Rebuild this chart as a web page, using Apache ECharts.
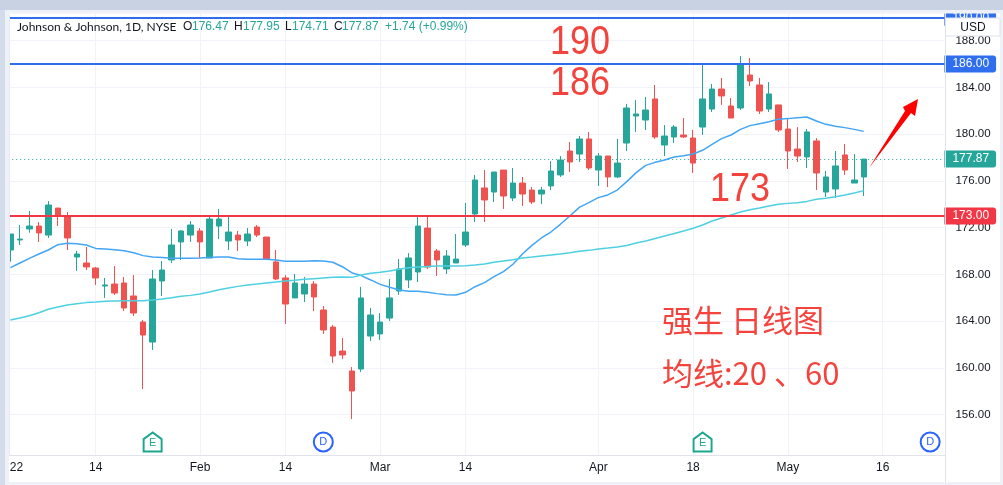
<!DOCTYPE html>
<html><head><meta charset="utf-8">
<style>html,body{margin:0;padding:0;background:#fff}#c{width:1003px;height:485px}</style>
<script src="https://cdn.jsdelivr.net/npm/echarts@6/dist/echarts.min.js"></script>
</head><body><div id="c"></div>
<script>
// [open, close, low, high]
const candles = [
[170.09,171.46,169.09,171.46],[170.95,171.03,170.52,172.23],[171.89,172.14,171.57,173.43],[172.14,171.55,170.78,172.49],
[171.37,173.94,171.12,174.28],[173.68,172.97,172.14,173.68],[173.00,171.12,170.09,173.34],[169.49,169.75,168.30,170.01],
[168.98,168.64,168.38,170.35],[168.55,167.70,167.10,168.64],[167.01,167.10,165.99,167.70],[167.18,166.41,166.24,168.72],
[167.27,165.13,164.87,167.78],[166.16,164.70,164.45,167.95],[163.93,162.82,158.20,164.10],[162.22,167.61,161.54,168.38],
[167.44,168.38,166.16,169.15],[169.24,170.52,168.98,171.89],[170.78,171.72,169.24,171.80],[171.37,172.23,170.78,172.57],
[171.72,170.78,169.41,171.97],[169.41,172.74,169.41,173.00],[172.14,172.74,171.03,173.60],[170.86,171.63,170.09,172.94],
[171.37,170.95,170.01,171.72],[170.86,171.46,170.43,171.97],[172.06,171.37,171.20,172.23],[171.20,169.32,169.24,171.20],
[169.07,167.61,167.53,170.09],[167.70,165.47,163.76,167.95],[165.99,167.27,165.99,168.04],[166.33,167.18,165.64,167.78],
[167.18,166.07,164.87,167.44],[164.96,163.25,162.91,165.30],[163.50,161.02,160.43,163.68],[161.45,161.11,160.77,162.56],
[159.74,158.03,155.63,160.08],[159.91,165.99,159.66,166.93],[162.73,164.53,162.31,165.13],[162.91,163.93,162.39,164.70],
[164.27,165.99,164.02,167.61],[166.58,168.47,166.24,169.32],[167.53,169.41,166.84,169.83],[168.21,172.14,167.35,173.09],
[171.97,168.64,168.47,173.00],[170.01,169.24,167.87,170.18],[168.47,169.58,168.04,170.09],[168.98,169.32,168.98,171.46],
[170.52,171.63,170.35,174.11],[173.17,176.08,172.49,176.51],[175.40,174.37,172.49,176.93],[175.05,176.76,174.20,176.76],
[176.93,174.71,173.60,176.93],[174.54,175.82,174.28,177.11],[175.82,174.88,173.86,176.34],[175.22,174.20,174.03,175.48],
[174.88,175.22,174.03,175.48],[175.57,176.85,175.22,177.70],[176.51,177.79,176.34,178.13],[178.56,177.62,176.76,179.33],
[178.30,179.59,177.62,179.84],[179.59,177.11,176.93,180.19],[176.93,178.13,175.57,178.39],[178.13,176.34,175.48,178.13],
[176.34,177.53,176.25,179.59],[179.24,182.24,178.56,182.58],[181.55,181.73,180.19,182.92],[181.21,182.07,180.36,183.18],
[183.01,179.76,179.59,184.21],[179.07,179.84,178.13,180.78],[179.76,180.61,179.24,180.78],[179.93,179.76,179.67,181.38],
[179.67,177.53,176.68,180.36],[180.61,183.01,179.93,186.00],[182.15,183.86,181.90,184.29],[183.86,183.27,182.50,184.81],
[182.41,181.38,181.38,183.09],[182.24,186.00,182.07,186.69],[185.06,184.55,184.12,186.52],[184.21,181.98,181.73,184.81],
[182.15,183.44,181.90,184.46],[182.50,180.36,180.19,182.50],[180.44,178.56,177.02,181.38],[178.73,178.13,177.62,180.61],
[178.05,180.19,177.11,180.44],[179.42,176.68,175.22,179.67],[175.05,176.34,174.63,176.85],[175.31,177.28,174.54,178.56],
[178.22,176.93,176.51,179.16],[175.82,176.08,175.82,178.30],[176.34,177.87,174.71,177.87]
];
const ma20 = [168.58,168.98,169.38,169.75,170.09,170.55,170.66,170.63,170.52,170.23,170.18,170.12,170.03,169.86,169.61,169.49,169.44,169.38,169.38,169.38,
169.41,169.46,169.49,169.49,169.35,169.29,169.29,169.29,169.24,169.12,169.12,169.12,169.18,169.15,169.04,168.66,168.15,167.90,167.53,167.15,
166.90,166.67,166.56,166.56,166.47,166.36,166.27,166.24,166.47,166.95,167.30,167.81,168.24,168.87,169.75,170.49,171.12,171.63,172.29,173.00,
173.74,174.14,174.57,174.80,175.22,175.94,176.71,177.33,177.59,177.79,178.05,178.16,178.30,178.62,179.13,179.62,179.93,180.41,180.73,180.90,
181.07,181.27,181.33,181.41,181.47,181.13,180.84,180.67,180.56,180.41,180.24];
const ma60 = [164.10,164.27,164.47,164.73,165.02,165.22,165.39,165.50,165.59,165.64,165.70,165.73,165.76,165.76,165.76,165.81,165.90,166.01,166.13,166.21,
166.33,166.50,166.70,166.84,166.98,167.10,167.18,167.27,167.35,167.44,167.50,167.58,167.64,167.70,167.75,167.78,167.75,167.95,168.10,168.18,
168.30,168.44,168.58,168.64,168.69,168.72,168.72,168.72,168.75,168.81,168.89,169.04,169.15,169.26,169.41,169.49,169.58,169.67,169.75,169.86,
169.98,170.06,170.18,170.26,170.35,170.48,170.69,170.86,171.08,171.29,171.50,171.72,171.95,172.23,172.57,172.83,173.09,173.34,173.54,173.68,
173.86,174.00,174.08,174.14,174.25,174.43,174.51,174.65,174.80,174.97,175.17];
const dates = ["2021-12-31",
"2022-01-03","01-04","01-05","01-06","01-07","01-10","01-11","01-12","01-13","01-14","01-18","01-19","01-20","01-21","01-24","01-25","01-26","01-27","01-28","01-31",
"02-01","02-02","02-03","02-04","02-07","02-08","02-09","02-10","02-11","02-14","02-15","02-16","02-17","02-18","02-22","02-23","02-24","02-25","02-28",
"03-01","03-02","03-03","03-04","03-07","03-08","03-09","03-10","03-11","03-14","03-15","03-16","03-17","03-18","03-21","03-22","03-23","03-24","03-25","03-28","03-29","03-30","03-31",
"04-01","04-04","04-05","04-06","04-07","04-08","04-11","04-12","04-13","04-14","04-18","04-19","04-20","04-21","04-22","04-25","04-26","04-27","04-28","04-29",
"05-02","05-03","05-04","05-05","05-06","05-09","05-10","05-11","05-12","05-13","05-16","05-17","05-18","05-19","05-20","05-23","05-24"];
const tickDates = ["2022-01-03","01-14","02-01","02-14","03-01","03-14","04-01","04-18","05-02","05-16"];
const tickLabels = ["{first|22}","14","Feb","14","Mar","14","Apr","18","May","16"];
const gridDates = tickDates.slice(1);
const levels = [190,186,173];
const levelTags = ["190.00","186.00","173.00"];
const levelColors = ["#2f6fed","#2f6fed","#f23645"];
const lastClose = 177.87;
const lastCloseTag = "177.87";
const earningDates = ["01-25","04-19"];
const dividendDates = ["02-18","05-23"];
const eventLevel = 153.67;
const headerParts = [
 ["Johnson & Johnson, 1D, NYSE",17,"#131722","Lato,sans-serif"],["O",183,"#131722"],["176.47",192,"#26a69a"],
 ["H",234,"#131722"],["177.95",243,"#26a69a"],["L",285,"#131722"],["174.71",292,"#26a69a"],
 ["C",334,"#131722"],["177.87",342,"#26a69a"],["+1.74 (+0.99%)",385,"#26a69a"]];

const FONT='"Liberation Sans",Arial,sans-serif', CJK='"Noto Sans CJK SC",sans-serif';
const UP='#26a69a', DOWN='#ef5350', GRIDC='#f0f3fa', NOTE='#f4433c';
const chart = echarts.init(document.getElementById('c'),null,{renderer:'canvas'});

const tag=(txt,color)=>({show:true,position:'end',distance:0,formatter:txt,color:'#fff',backgroundColor:color,
  fontFamily:FONT,fontSize:12,fontWeight:500,padding:[3,7,2,8],borderRadius:[0,3,3,0]});
const rect=(x,y,w,h,fill,z)=>({type:'rect',shape:{x,y,width:w,height:h},style:{fill},z,silent:true});
const note=(text,x,y,size,fam,align,sy)=>({type:'text',x,y,scaleY:sy||1,z:20,silent:true,style:{text,fill:NOTE,font:`${size}px ${fam}`,textAlign:align||'center',textVerticalAlign:'middle'}});

const graphics=[
  rect(9,455.5,936,27,'#fff',5),
  rect(9,455,936,1,'#e0e3eb',6),
  rect(945,9,1,474,'#e0e3eb',6),
  rect(1000,9,3,476,'#eef1f8',100),
  rect(0,482,1003,3,'#eef1f8',100),
  rect(0,0,5,485,'#d3dcea',100),
  rect(5,9,4,476,'#eef1f8',100),
  rect(9,14,1,441,'#e6e9f0',100),
  rect(5,10,995,3.5,'#eef1f8',100),
  rect(0,0,1003,10,'#c8d2e2',101),
  {type:'rect',shape:{x:945.5,y:18,width:54.5,height:18},style:{fill:'#fff',stroke:'#dfe2ea',lineWidth:1},z:100,silent:true},
  {type:'text',x:973,y:27.5,z:101,silent:true,style:{text:'USD',fill:'#131722',font:`12px ${FONT}`,textAlign:'center',textVerticalAlign:'middle'}},
  {type:'polygon',shape:{points:[[869,168],[905,111],[903,107],[918,99],[915,116],[911,113]]},style:{fill:'#ff0000'},z:20,silent:true},
  note('190',580,43,36,FONT,'center',1.15), note('186',580,84,36,FONT,'center',1.15), note('173',740,190,36,FONT,'center',1.15),
  note('强生 日线图',662,320,31,CJK,'left'), note('均线:20 、60',662,373,31,CJK,'left')
];
headerParts.forEach(p=>graphics.push({type:'text',x:p[1],y:27,z:20,silent:true,style:{text:p[0],fill:p[2],font:`12px ${p[3]||FONT}`,textAlign:'left',textVerticalAlign:'middle'}}));

const axisBase={type:'category',data:dates,boundaryGap:true};
chart.setOption({
  animation:false,backgroundColor:'#fff',
  grid:{left:-3.82,width:948.2,top:-6.11,height:467.6,containLabel:false,outerBoundsMode:'none'},
  xAxis:[
    Object.assign({},axisBase,{z:0,axisLine:{show:false},axisTick:{show:false},axisLabel:{show:false},
      splitLine:{show:true,alignWithLabel:true,lineStyle:{color:GRIDC,width:1},interval:(i,v)=>gridDates.includes(v)}}),
    Object.assign({},axisBase,{z:10,position:'bottom',axisLine:{show:false},axisTick:{show:false},splitLine:{show:false},
      axisLabel:{show:true,margin:0,color:'#131722',fontFamily:FONT,fontSize:12,hideOverlap:false,
        interval:(i,v)=>tickDates.includes(v),
        formatter:v=>tickLabels[tickDates.indexOf(v)]||'',
        rich:{first:{color:'#131722',fontFamily:FONT,fontSize:12,padding:[0,0,0,12]}}}})
  ],
  yAxis:{type:'value',position:'right',min:152,max:192,interval:4,z:0,
    axisLine:{show:false},axisTick:{show:false},
    splitLine:{show:true,lineStyle:{color:GRIDC,width:1}},
    axisLabel:{margin:11,color:'#131722',fontFamily:FONT,fontSize:11.5,padding:[2,0,0,0],
      formatter:v=>(v<=152||v>=192)?'':v.toFixed(2)}},
  series:[
    {type:'line',name:'last',data:[],z:1,silent:true,markLine:{silent:true,symbol:'none',animation:false,z:1,
      data:[{yAxis:lastClose,lineStyle:{color:UP,type:[1,3],width:1},label:tag(lastCloseTag,UP)}]}},
    {type:'candlestick',name:'JNJ',data:[null].concat(candles).map(d=>d||['-','-','-','-']),barWidth:6,z:2,
      itemStyle:{color:UP,color0:DOWN,borderColor:UP,borderColor0:DOWN,borderWidth:1}},
    {type:'line',name:'MA20',data:[null].concat(ma20),showSymbol:false,symbol:'none',smooth:false,z:3,lineStyle:{color:'#42a5f5',width:1.5}},
    {type:'line',name:'MA60',data:[null].concat(ma60),showSymbol:false,symbol:'none',smooth:false,z:3,lineStyle:{color:'#4dd0e1',width:1.5}},
    {type:'line',name:'levels',data:[],z:4,silent:true,markLine:{silent:true,symbol:'none',animation:false,z:4,
      data:levels.map((v,i)=>({yAxis:v,lineStyle:{color:levelColors[i],type:'solid',width:2},label:tag(levelTags[i],levelColors[i])}))}},
    {type:'scatter',name:'earnings',z:6,silent:true,data:earningDates.map(d=>[d,eventLevel]),
      symbol:'path://M1 7 L10 0 L19 7 L19 20 L1 20 Z',symbolSize:[18,19],
      itemStyle:{color:'#fff',borderColor:'#1ba68d',borderWidth:2,opacity:1},
      label:{show:true,position:'inside',formatter:'E',color:'#1ba68d',fontFamily:FONT,fontSize:11,offset:[0,1]}},
    {type:'scatter',name:'dividends',z:6,silent:true,data:dividendDates.map(d=>[d,eventLevel]),
      symbol:'circle',symbolSize:19,
      itemStyle:{color:'#fff',borderColor:'#2962ff',borderWidth:2,opacity:1},
      label:{show:true,position:'inside',formatter:'D',color:'#2962ff',fontFamily:FONT,fontSize:11}}
  ],
  graphic:graphics
});
</script></body></html>
